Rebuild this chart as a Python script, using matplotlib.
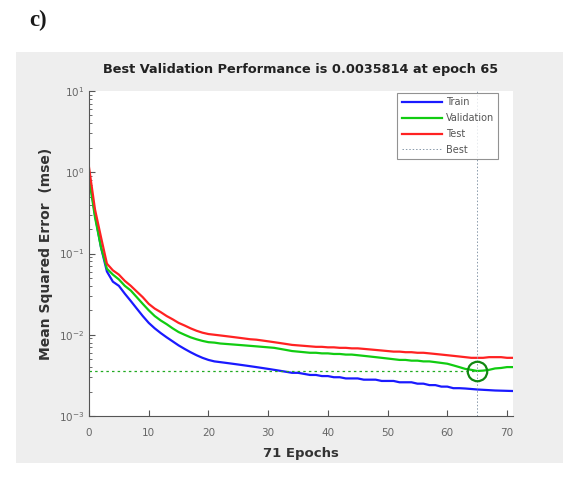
import matplotlib
matplotlib.use("Agg")
import matplotlib.pyplot as plt
from matplotlib.patches import Rectangle
import numpy as np

plt.rcParams['font.family'] = ['DejaVu Sans']

epochs = list(range(0, 72))

train_mse = [0.95, 0.30, 0.12, 0.060, 0.045, 0.040, 0.032, 0.026, 0.021, 0.017,
             0.0140, 0.0120, 0.0105, 0.0093, 0.0083, 0.0074, 0.0067, 0.0061, 0.0056, 0.0052,
             0.0049, 0.0047, 0.0046, 0.0045, 0.0044, 0.0043, 0.0042, 0.0041, 0.0040, 0.0039,
             0.0038, 0.0037, 0.0036, 0.0035, 0.0034, 0.0034, 0.0033, 0.0032, 0.0032, 0.0031,
             0.0031, 0.0030, 0.0030, 0.0029, 0.0029, 0.0029, 0.0028, 0.0028, 0.0028, 0.0027,
             0.0027, 0.0027, 0.0026, 0.0026, 0.0026, 0.0025, 0.0025, 0.0024, 0.0024, 0.0023,
             0.0023, 0.0022, 0.0022, 0.00218, 0.00215, 0.00212, 0.0021, 0.00208, 0.00206, 0.00205,
             0.00204, 0.00203]

val_mse = [0.85, 0.28, 0.12, 0.065, 0.055, 0.048, 0.040, 0.035, 0.029, 0.024,
           0.020, 0.0170, 0.0150, 0.0135, 0.0120, 0.0108, 0.0100, 0.0093, 0.0088, 0.0084,
           0.0081, 0.0080, 0.0078, 0.0077, 0.0076, 0.0075, 0.0074, 0.0073, 0.0072, 0.0071,
           0.0070, 0.0069, 0.0067, 0.0065, 0.0063, 0.0062, 0.0061, 0.0060, 0.0060, 0.0059,
           0.0059, 0.0058, 0.0058, 0.0057, 0.0057, 0.0056, 0.0055, 0.0054, 0.0053, 0.0052,
           0.0051, 0.0050, 0.0049, 0.0049, 0.0048, 0.0048, 0.0047, 0.0047, 0.0046, 0.0045,
           0.0044, 0.0042, 0.0040, 0.0038, 0.0037, 0.0035814, 0.00362, 0.0037, 0.00385, 0.0039,
           0.0040, 0.0040]

test_mse = [1.15, 0.35, 0.16, 0.075, 0.062, 0.055, 0.046, 0.040, 0.034, 0.029,
            0.024, 0.021, 0.019, 0.017, 0.0155, 0.0140, 0.0130, 0.0120, 0.0112, 0.0106,
            0.0102, 0.0100, 0.0098, 0.0096, 0.0094, 0.0092, 0.0090, 0.0088, 0.0087, 0.0085,
            0.0083, 0.0081, 0.0079, 0.0077, 0.0075, 0.0074, 0.0073, 0.0072, 0.0071, 0.0071,
            0.0070, 0.0070, 0.0069, 0.0069, 0.0068, 0.0068, 0.0067, 0.0066, 0.0065, 0.0064,
            0.0063, 0.0062, 0.0062, 0.0061, 0.0061, 0.0060, 0.0060, 0.0059, 0.0058, 0.0057,
            0.0056, 0.0055, 0.0054, 0.0053, 0.0052, 0.0052, 0.0052, 0.0053, 0.0053, 0.0053,
            0.0052, 0.0052]

best_epoch = 65
best_perf = 0.0035814
n_epochs = 71

x_ticks = [0, 10, 20, 30, 40, 50, 60, 70]
y_ticks = [1e-3, 1e-2, 1e-1, 1e0, 1e1]

fig = plt.figure(figsize=(5.74, 4.78), dpi=100)
fig.patch.set_facecolor('white')

# grey figure panel behind the axes
panel = Rectangle((16 / 574, 1 - 463 / 478), (563 - 16) / 574, (463 - 52) / 478,
                  transform=fig.transFigure, facecolor='#eeeeee',
                  edgecolor='none', zorder=-10)
fig.add_artist(panel)

fig.text(29 / 574, 1 - 20 / 478, 'c)', fontsize=16.5, fontweight='bold',
         family='Liberation Serif', va='center', ha='left', color='#1a1a1a')

ax = fig.add_axes([89 / 574, 1 - 416 / 478, (513 - 89) / 574, (416 - 91) / 478])
ax.set_facecolor('white')

ax.semilogy(epochs, train_mse, color='#1a1aff', lw=1.6, label='Train')
ax.semilogy(epochs, val_mse, color='#11cc11', lw=1.6, label='Validation')
ax.semilogy(epochs, test_mse, color='#ff2222', lw=1.6, label='Test')
ax.axvline(best_epoch, color='#8899aa', lw=0.7, ls=(0, (1.5, 2)), label='Best')
ax.plot([0, best_epoch], [best_perf, best_perf], color='#22aa22', lw=0.9,
        ls=(0, (2, 2.5)))
ax.plot(best_epoch, best_perf, 'o', mfc='none', mec='#118811', mew=1.6, ms=14)

ax.set_xlim(0, n_epochs)
ax.set_ylim(1e-3, 1e1)
ax.set_xticks(x_ticks)
ax.set_xticklabels([str(t) for t in x_ticks])
ax.set_yticks(y_ticks)

for s in ['top', 'right']:
    ax.spines[s].set_visible(False)
for s in ['left', 'bottom']:
    ax.spines[s].set_color('#555555')
    ax.spines[s].set_linewidth(0.8)

ax.tick_params(axis='both', which='both', direction='in', colors='#555555',
               labelcolor='#666666', labelsize=7.5)
ax.tick_params(axis='both', which='major', length=4)
ax.tick_params(axis='y', which='minor', length=2)
ax.tick_params(axis='x', pad=9)

ax.set_title('Best Validation Performance is 0.0035814 at epoch 65',
             fontsize=9.3, fontweight='bold', pad=13, color='#222222')
ax.set_xlabel('71 Epochs', fontsize=9.5, fontweight='bold', color='#333333', labelpad=6)
ax.set_ylabel('Mean Squared Error  (mse)', fontsize=10, fontweight='bold',
              color='#333333', labelpad=4)

leg = ax.legend(loc='upper right', bbox_to_anchor=(0.972, 1.003), fontsize=7,
                frameon=True, fancybox=False, handlelength=4.1, handletextpad=0.4,
                borderpad=0.45, labelspacing=0.6, borderaxespad=0.3)
leg.get_frame().set_edgecolor('#777777')
leg.get_frame().set_linewidth(0.8)
for t in leg.get_texts():
    t.set_color('#555555')

fig.savefig('out.png', dpi=100)
